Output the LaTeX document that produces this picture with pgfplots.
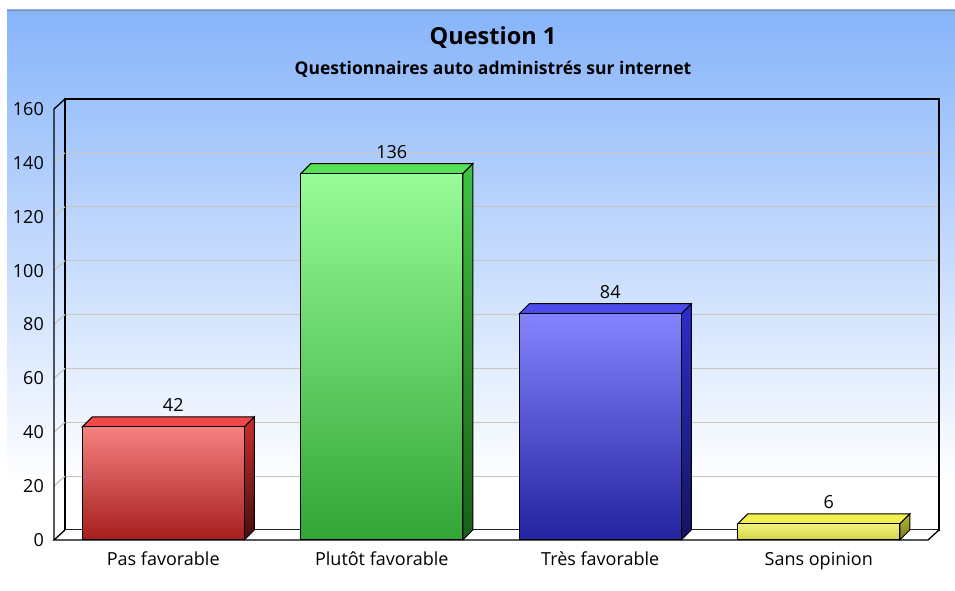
\documentclass[border=0pt]{standalone}
\usepackage{fontspec}
\setmainfont{Open Sans}
\usepackage{pgfplots}
\pgfplotsset{compat=1.18}
\definecolor{bgtop}{RGB}{135,180,250}
\definecolor{gridc}{RGB}{200,196,190}
\definecolor{topline}{RGB}{120,140,175}
\definecolor{rA}{RGB}{246,128,128}\definecolor{rB}{RGB}{166,30,30}\definecolor{rT}{RGB}{240,72,72}\definecolor{rS1}{RGB}{205,45,45}\definecolor{rS2}{RGB}{70,15,15}
\definecolor{gA}{RGB}{152,252,152}\definecolor{gB}{RGB}{50,165,55}\definecolor{gT}{RGB}{85,225,85}\definecolor{gS1}{RGB}{65,195,65}\definecolor{gS2}{RGB}{25,95,25}
\definecolor{bA}{RGB}{132,132,255}\definecolor{bB}{RGB}{35,35,160}\definecolor{bT}{RGB}{75,75,235}\definecolor{bS1}{RGB}{45,45,205}\definecolor{bS2}{RGB}{20,20,95}
\definecolor{yA}{RGB}{242,242,128}\definecolor{yB}{RGB}{212,212,72}\definecolor{yT}{RGB}{240,240,80}\definecolor{yS1}{RGB}{185,185,55}\definecolor{yS2}{RGB}{120,120,30}
\begin{document}
\begin{tikzpicture}[x=1pt,y=1pt]
\useasboundingbox (0,0) rectangle (955,591);
\fill[white] (0,0) rectangle (955,591);
\shade[top color=bgtop, bottom color=white] (7,108) rectangle (955,581);
\draw[topline, line width=0.8pt] (7,581) -- (955,581);
\node[font=\fontsize{23.5}{23.5}\bfseries\selectfont] at (493,553) {Question 1};
\node[font=\fontsize{17.5}{17.5}\bfseries\selectfont] at (493,522) {Questionnaires auto administrés sur internet};
% back wall
\begin{axis}[at={(65pt,61pt)}, anchor=south west, scale only axis,
  width=874pt, height=431pt, xmin=0, xmax=4, ymin=0, ymax=160,
  ytick={0,20,...,160}, xtick=\empty, yticklabels={},
  ymajorgrids, grid style={gridc, line width=1.2pt},
  axis line style={black, line width=1.3pt}, major tick length=0pt]
\end{axis}
% floor and left wall
\fill[white] (54,51) -- (928,51) -- (939,61) -- (65,61) -- cycle;
\foreach \v in {20,40,...,140} \draw[gridc, line width=1.2pt] (54,51+\v*2.69375) -- (65,61+\v*2.69375);
\draw[black, line width=1.3pt] (65,61) -- (54,51) -- (928,51) -- (939,61);
\draw[black, line width=1.3pt] (54,51) -- (54,482) -- (65,492);
% front axis with bars
\begin{axis}[at={(54pt,51pt)}, anchor=south west, scale only axis,
  width=874pt, height=431pt, xmin=0, xmax=4, ymin=0, ymax=160, clip=false,
  axis line style={draw=none}, major tick length=0pt,
  ytick={0,20,...,160},
  xtick={0.5,1.5,2.5,3.5},
  xticklabels={Pas favorable, Plutôt favorable, Très favorable, Sans opinion},
  /pgf/number format/assume math mode=true,
  yticklabel style={anchor=east, inner sep=0pt, xshift=-10pt, font=\fontsize{18}{18}\selectfont},
  xticklabel style={anchor=base, inner sep=0pt, yshift=-26pt, font=\fontsize{18}{18}\selectfont}]
% red
\addplot[draw=black, line width=1pt, top color=rS1, bottom color=rS2] coordinates {(0.8707,0) (0.9165,3.71) (0.9165,45.71) (0.8707,42)} -- cycle;
\addplot[draw=black, line width=1pt, fill=rT] coordinates {(0.1293,42) (0.1751,45.71) (0.9165,45.71) (0.8707,42)} -- cycle;
\addplot[ybar, bar width=162pt, bar shift=0pt, draw=black, line width=1pt, top color=rA, bottom color=rB] coordinates {(0.5,42)};
% green
\addplot[draw=black, line width=1pt, top color=gS1, bottom color=gS2] coordinates {(1.8707,0) (1.9165,3.71) (1.9165,139.71) (1.8707,136)} -- cycle;
\addplot[draw=black, line width=1pt, fill=gT] coordinates {(1.1293,136) (1.1751,139.71) (1.9165,139.71) (1.8707,136)} -- cycle;
\addplot[ybar, bar width=162pt, bar shift=0pt, draw=black, line width=1pt, top color=gA, bottom color=gB] coordinates {(1.5,136)};
% blue
\addplot[draw=black, line width=1pt, top color=bS1, bottom color=bS2] coordinates {(2.8707,0) (2.9165,3.71) (2.9165,87.71) (2.8707,84)} -- cycle;
\addplot[draw=black, line width=1pt, fill=bT] coordinates {(2.1293,84) (2.1751,87.71) (2.9165,87.71) (2.8707,84)} -- cycle;
\addplot[ybar, bar width=162pt, bar shift=0pt, draw=black, line width=1pt, top color=bA, bottom color=bB] coordinates {(2.5,84)};
% yellow
\addplot[draw=black, line width=1pt, top color=yS1, bottom color=yS2] coordinates {(3.8707,0) (3.9165,3.71) (3.9165,9.71) (3.8707,6)} -- cycle;
\addplot[draw=black, line width=1pt, fill=yT] coordinates {(3.1293,6) (3.1751,9.71) (3.9165,9.71) (3.8707,6)} -- cycle;
\addplot[ybar, bar width=162pt, bar shift=0pt, draw=black, line width=1pt, top color=yA, bottom color=yB] coordinates {(3.5,6)};
% value labels
\addplot[ybar, bar width=162pt, bar shift=0pt, draw=none, fill=none,
  nodes near coords,
  every node near coord/.style={anchor=center, xshift=10pt, yshift=22pt, text=black, font=\fontsize{18}{18}\selectfont}]
  coordinates {(0.5,42) (1.5,136) (2.5,84) (3.5,6)};
\end{axis}
\end{tikzpicture}
\end{document}
